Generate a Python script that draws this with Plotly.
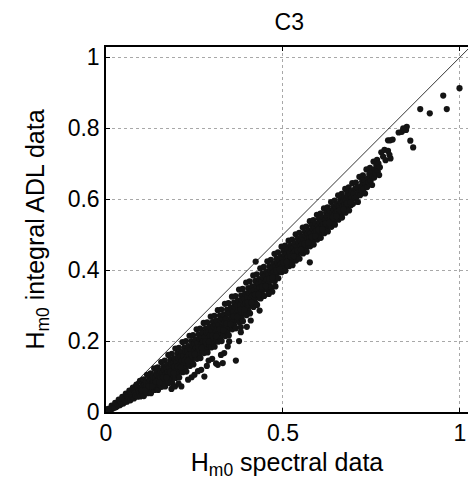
import plotly.graph_objects as go

# Hm0 spectral data (x) and Hm0 integral ADL data (y)
hm0_spectral = [
    0.003, 0.006,
    0.006, 0.009, 0.012, 0.014,
    0.016, 0.019, 0.022, 0.024,
    0.026, 0.029, 0.032, 0.034,
    0.036, 0.039, 0.042, 0.044,
    0.046, 0.049, 0.052, 0.054,
    0.056, 0.059, 0.060, 0.062, 0.064,
    0.066, 0.069, 0.070, 0.072, 0.074,
    0.076, 0.079, 0.080, 0.082, 0.084,
    0.086, 0.089, 0.090, 0.092, 0.094,
    0.096, 0.097, 0.099, 0.100, 0.102, 0.103, 0.104,
    0.106, 0.107, 0.109, 0.110, 0.112, 0.113, 0.114,
    0.116, 0.117, 0.119, 0.120, 0.122, 0.123, 0.124,
    0.126, 0.127, 0.129, 0.130, 0.132, 0.133, 0.134,
    0.136, 0.137, 0.139, 0.140, 0.142, 0.143, 0.144,
    0.146, 0.147, 0.149, 0.150, 0.152, 0.153, 0.154,
    0.156, 0.157, 0.159, 0.160, 0.162, 0.163, 0.164,
    0.166, 0.167, 0.169, 0.170, 0.172, 0.173, 0.174,
    0.176, 0.177, 0.179, 0.180, 0.182, 0.183, 0.184,
    0.186, 0.187, 0.189, 0.190, 0.192, 0.193, 0.194,
    0.196, 0.197, 0.199, 0.200, 0.202, 0.203, 0.204,
    0.206, 0.207, 0.209, 0.210, 0.212, 0.213, 0.214,
    0.216, 0.217, 0.219, 0.220, 0.222, 0.223, 0.224,
    0.226, 0.227, 0.229, 0.230, 0.232, 0.233, 0.234,
    0.236, 0.237, 0.239, 0.240, 0.242, 0.243, 0.244,
    0.246, 0.247, 0.249, 0.250, 0.252, 0.253, 0.254,
    0.256, 0.257, 0.259, 0.260, 0.262, 0.263, 0.264,
    0.266, 0.267, 0.269, 0.270, 0.272, 0.273, 0.274,
    0.276, 0.277, 0.279, 0.280, 0.282, 0.283, 0.284,
    0.286, 0.287, 0.289, 0.290, 0.292, 0.293, 0.294,
    0.296, 0.297, 0.299, 0.300, 0.302, 0.303, 0.304,
    0.306, 0.307, 0.309, 0.310, 0.312, 0.313, 0.314,
    0.316, 0.317, 0.319, 0.320, 0.322, 0.323, 0.324,
    0.326, 0.327, 0.329, 0.330, 0.332, 0.333, 0.334,
    0.336, 0.337, 0.339, 0.340, 0.342, 0.343, 0.344,
    0.346, 0.347, 0.349, 0.350, 0.352, 0.353, 0.354,
    0.356, 0.357, 0.359, 0.360, 0.362, 0.363, 0.364,
    0.366, 0.367, 0.369, 0.370, 0.372, 0.373, 0.374,
    0.376, 0.377, 0.379, 0.380, 0.382, 0.383, 0.384,
    0.386, 0.387, 0.389, 0.390, 0.392, 0.393, 0.394,
    0.396, 0.397, 0.399, 0.400, 0.402, 0.403, 0.404,
    0.406, 0.407, 0.409, 0.410, 0.412, 0.413, 0.414,
    0.416, 0.417, 0.419, 0.420, 0.422, 0.423, 0.424,
    0.426, 0.427, 0.429, 0.430, 0.432, 0.433, 0.434,
    0.436, 0.437, 0.439, 0.440, 0.442, 0.443, 0.444,
    0.446, 0.447, 0.449, 0.450, 0.452, 0.453, 0.454,
    0.456, 0.457, 0.459, 0.460, 0.462, 0.463, 0.464,
    0.466, 0.467, 0.469, 0.470, 0.472, 0.473, 0.474,
    0.476, 0.477, 0.479, 0.480, 0.482, 0.483, 0.484,
    0.486, 0.487, 0.489, 0.490, 0.492, 0.493, 0.494,
    0.496, 0.497, 0.499, 0.500, 0.502, 0.503, 0.504,
    0.506, 0.507, 0.509, 0.510, 0.512, 0.513, 0.514,
    0.516, 0.517, 0.519, 0.520, 0.522, 0.523, 0.524,
    0.526, 0.527, 0.529, 0.530, 0.532, 0.533, 0.534,
    0.536, 0.537, 0.539, 0.540, 0.542, 0.543, 0.544,
    0.546, 0.547, 0.549, 0.550, 0.552, 0.553, 0.554,
    0.556, 0.557, 0.559, 0.560, 0.562, 0.563, 0.564,
    0.566, 0.567, 0.569, 0.570, 0.572, 0.573, 0.574,
    0.576, 0.577, 0.579, 0.580, 0.582, 0.583, 0.584,
    0.586, 0.587, 0.589, 0.590, 0.592, 0.593, 0.594,
    0.596, 0.597, 0.599, 0.600, 0.602, 0.603, 0.604,
    0.606, 0.607, 0.609, 0.610, 0.612, 0.613, 0.614,
    0.616, 0.617, 0.619, 0.620, 0.622, 0.623, 0.624,
    0.626, 0.627, 0.629, 0.630, 0.632, 0.633, 0.634,
    0.636, 0.637, 0.639, 0.640, 0.642, 0.643, 0.644,
    0.646, 0.647, 0.649, 0.650, 0.652, 0.653, 0.654,
    0.656, 0.657, 0.659, 0.660, 0.662, 0.663, 0.664,
    0.666, 0.667, 0.669, 0.670, 0.672, 0.673, 0.674,
    0.676, 0.677, 0.679, 0.680, 0.682, 0.683, 0.684,
    0.686, 0.687, 0.689, 0.690, 0.692, 0.693, 0.694,
    0.696, 0.698, 0.700, 0.702, 0.704,
    0.706, 0.708, 0.710, 0.712, 0.714,
    0.716, 0.718, 0.720, 0.722, 0.724,
    0.726, 0.728, 0.730, 0.732, 0.734,
    0.736, 0.738, 0.740, 0.742, 0.744,
    0.746, 0.748, 0.750, 0.752, 0.754,
    0.756, 0.758, 0.760, 0.762, 0.764,
    0.766, 0.768, 0.770, 0.772, 0.774,
    0.778, 0.787, 0.797, 0.801, 0.804, 0.783, 0.790,
    0.797, 0.803, 0.810, 0.827, 0.836, 0.843, 0.848, 0.850, 0.840,
    0.860, 0.868, 0.888, 0.915, 0.953, 0.963, 0.999,
    0.185, 0.195, 0.213, 0.205, 0.232, 0.242, 0.250, 0.260, 0.269, 0.278,
    0.285, 0.311, 0.316, 0.330, 0.325, 0.334, 0.344, 0.348, 0.367, 0.376,
    0.381, 0.381, 0.398, 0.409, 0.434, 0.460, 0.470, 0.479, 0.576, 0.423,
    0.300, 0.290,
    0.101, 0.111, 0.121, 0.131, 0.141, 0.151, 0.161, 0.171, 0.181, 0.191,
    0.201, 0.211, 0.221, 0.231, 0.241, 0.251, 0.261, 0.271, 0.281, 0.291,
    0.301, 0.311, 0.321, 0.331, 0.341, 0.351, 0.361, 0.371, 0.381, 0.391,
    0.401, 0.411, 0.421, 0.431, 0.441, 0.451, 0.461, 0.471, 0.481, 0.491,
    0.501, 0.511, 0.521, 0.531, 0.541, 0.551, 0.561, 0.571, 0.581, 0.591,
    0.601, 0.611, 0.621, 0.631, 0.641, 0.651, 0.661, 0.671, 0.681, 0.691,
]

hm0_adl = [
    0.002, 0.004,
    0.009, 0.005, 0.007, 0.006,
    0.018, 0.010, 0.014, 0.012,
    0.026, 0.014, 0.021, 0.018,
    0.035, 0.019, 0.028, 0.023,
    0.043, 0.024, 0.034, 0.029,
    0.052, 0.029, 0.046, 0.041, 0.035,
    0.060, 0.033, 0.054, 0.048, 0.041,
    0.069, 0.038, 0.062, 0.055, 0.046,
    0.077, 0.043, 0.069, 0.061, 0.052,
    0.088, 0.044, 0.068, 0.055, 0.080, 0.049, 0.074,
    0.092, 0.045, 0.067, 0.078, 0.056, 0.085, 0.072,
    0.105, 0.053, 0.081, 0.066, 0.096, 0.059, 0.089,
    0.109, 0.053, 0.079, 0.092, 0.066, 0.101, 0.085,
    0.123, 0.062, 0.095, 0.077, 0.112, 0.069, 0.104,
    0.126, 0.062, 0.092, 0.107, 0.077, 0.116, 0.098,
    0.141, 0.071, 0.109, 0.088, 0.129, 0.079, 0.119,
    0.145, 0.072, 0.106, 0.123, 0.089, 0.134, 0.113,
    0.161, 0.082, 0.125, 0.102, 0.147, 0.091, 0.136,
    0.164, 0.082, 0.120, 0.139, 0.101, 0.151, 0.128,
    0.179, 0.096, 0.141, 0.117, 0.165, 0.105, 0.153,
    0.181, 0.097, 0.136, 0.156, 0.117, 0.169, 0.144,
    0.197, 0.112, 0.158, 0.133, 0.182, 0.122, 0.171,
    0.200, 0.114, 0.154, 0.173, 0.134, 0.186, 0.162,
    0.215, 0.130, 0.176, 0.151, 0.200, 0.140, 0.189,
    0.217, 0.134, 0.173, 0.192, 0.153, 0.205, 0.181,
    0.233, 0.150, 0.195, 0.171, 0.219, 0.159, 0.207,
    0.235, 0.152, 0.191, 0.210, 0.171, 0.223, 0.199,
    0.251, 0.166, 0.212, 0.187, 0.236, 0.176, 0.225,
    0.253, 0.168, 0.208, 0.227, 0.188, 0.240, 0.216,
    0.269, 0.182, 0.229, 0.204, 0.254, 0.192, 0.242,
    0.271, 0.184, 0.224, 0.245, 0.204, 0.258, 0.233,
    0.287, 0.198, 0.246, 0.221, 0.272, 0.208, 0.259,
    0.289, 0.200, 0.241, 0.262, 0.221, 0.275, 0.250,
    0.305, 0.214, 0.263, 0.237, 0.289, 0.225, 0.277,
    0.307, 0.216, 0.259, 0.280, 0.237, 0.294, 0.267,
    0.325, 0.233, 0.282, 0.256, 0.309, 0.243, 0.296,
    0.327, 0.236, 0.279, 0.300, 0.257, 0.314, 0.287,
    0.345, 0.253, 0.302, 0.276, 0.329, 0.263, 0.316,
    0.347, 0.256, 0.299, 0.320, 0.277, 0.334, 0.307,
    0.365, 0.273, 0.323, 0.297, 0.349, 0.284, 0.336,
    0.368, 0.278, 0.320, 0.341, 0.299, 0.354, 0.328,
    0.385, 0.296, 0.344, 0.319, 0.370, 0.306, 0.357,
    0.388, 0.302, 0.342, 0.362, 0.322, 0.375, 0.350,
    0.405, 0.320, 0.366, 0.341, 0.390, 0.330, 0.379,
    0.409, 0.327, 0.365, 0.384, 0.346, 0.396, 0.373,
    0.425, 0.344, 0.388, 0.365, 0.411, 0.354, 0.400,
    0.429, 0.352, 0.388, 0.406, 0.370, 0.418, 0.395,
    0.446, 0.369, 0.410, 0.388, 0.432, 0.378, 0.422,
    0.450, 0.377, 0.411, 0.428, 0.394, 0.439, 0.418,
    0.466, 0.395, 0.433, 0.413, 0.454, 0.403, 0.444,
    0.469, 0.398, 0.431, 0.448, 0.414, 0.458, 0.438,
    0.483, 0.411, 0.450, 0.429, 0.470, 0.419, 0.460,
    0.486, 0.414, 0.447, 0.464, 0.431, 0.475, 0.454,
    0.501, 0.427, 0.467, 0.446, 0.488, 0.435, 0.478,
    0.505, 0.432, 0.466, 0.483, 0.449, 0.494, 0.473,
    0.520, 0.447, 0.486, 0.465, 0.507, 0.455, 0.497,
    0.523, 0.452, 0.485, 0.502, 0.468, 0.512, 0.492,
    0.538, 0.467, 0.505, 0.485, 0.526, 0.475, 0.516,
    0.541, 0.472, 0.504, 0.520, 0.488, 0.531, 0.511,
    0.556, 0.486, 0.524, 0.504, 0.544, 0.494, 0.534,
    0.559, 0.491, 0.523, 0.539, 0.507, 0.549, 0.529,
    0.574, 0.504, 0.542, 0.522, 0.562, 0.512, 0.552,
    0.577, 0.509, 0.541, 0.557, 0.525, 0.567, 0.547,
    0.592, 0.522, 0.560, 0.540, 0.580, 0.530, 0.570,
    0.596, 0.528, 0.560, 0.576, 0.544, 0.586, 0.566,
    0.611, 0.542, 0.580, 0.560, 0.599, 0.550, 0.590,
    0.615, 0.548, 0.579, 0.594, 0.563, 0.605, 0.585,
    0.629, 0.562, 0.598, 0.579, 0.618, 0.570, 0.608,
    0.633, 0.568, 0.598, 0.613, 0.583, 0.623, 0.604,
    0.645, 0.587, 0.616, 0.602, 0.630,
    0.647, 0.606, 0.633, 0.592, 0.620,
    0.663, 0.611, 0.637, 0.624, 0.650,
    0.667, 0.629, 0.654, 0.616, 0.642,
    0.684, 0.634, 0.659, 0.647, 0.671,
    0.688, 0.652, 0.676, 0.640, 0.664,
    0.706, 0.661, 0.684, 0.672, 0.695,
    0.711, 0.679, 0.700, 0.668, 0.690,
    0.732, 0.739, 0.736, 0.725, 0.715, 0.720, 0.710,
    0.766, 0.766, 0.768, 0.788, 0.790, 0.797, 0.795, 0.804, 0.800,
    0.765, 0.746, 0.854, 0.842, 0.892, 0.854, 0.913,
    0.065, 0.072, 0.072, 0.080, 0.091, 0.098, 0.105, 0.115, 0.119, 0.100,
    0.130, 0.137, 0.133, 0.138, 0.161, 0.166, 0.185, 0.199, 0.145, 0.200,
    0.225, 0.239, 0.240, 0.258, 0.286, 0.333, 0.339, 0.354, 0.422, 0.424,
    0.150, 0.145,
    0.061, 0.062, 0.073, 0.073, 0.085, 0.084, 0.098, 0.097, 0.113, 0.110,
    0.128, 0.126, 0.145, 0.144, 0.163, 0.163, 0.182, 0.181, 0.199, 0.198,
    0.216, 0.214, 0.233, 0.231, 0.250, 0.248, 0.269, 0.268, 0.289, 0.288,
    0.309, 0.309, 0.331, 0.332, 0.353, 0.355, 0.376, 0.379, 0.399, 0.402,
    0.422, 0.423, 0.439, 0.439, 0.456, 0.457, 0.475, 0.477, 0.494, 0.496,
    0.514, 0.515, 0.532, 0.533, 0.550, 0.552, 0.569, 0.571, 0.588, 0.590,
]

assert len(hm0_spectral) == len(hm0_adl), (len(hm0_spectral), len(hm0_adl))

# 1:1 reference line
diag_x = [0, 1.05]
diag_y = [0, 1.05]

x_tickvals = [0, 0.5, 1]
x_ticktext = ["0", "0.5", "1"]
y_tickvals = [0, 0.2, 0.4, 0.6, 0.8, 1]
y_ticktext = ["0", "0.2", "0.4", "0.6", "0.8", "1"]

FONT = "Liberation Sans, Arial, sans-serif"

fig = go.Figure()
fig.add_trace(go.Scatter(
    x=diag_x, y=diag_y, mode="lines",
    line=dict(color="black", width=0.8),
    hoverinfo="skip", showlegend=False,
))
fig.add_trace(go.Scatter(
    x=hm0_spectral, y=hm0_adl, mode="markers",
    marker=dict(size=6.2, color="#141414", line=dict(width=0)),
    showlegend=False,
))

fig.update_layout(
    width=468, height=488,
    margin=dict(l=106, r=0, t=47, b=76),
    paper_bgcolor="white", plot_bgcolor="white",
    font=dict(family=FONT, color="black"),
    title=dict(text="C3", x=0.618, xanchor="center", y=0.955, yanchor="middle",
               font=dict(size=23, family=FONT, color="black")),
)
fig.update_xaxes(
    range=[0, 1.023], tickvals=x_tickvals, ticktext=x_ticktext,
    tickfont=dict(size=23), ticks="inside", ticklen=4, tickcolor="black",
    ticklabeloverflow="allow",
    showline=True, linecolor="black", linewidth=1.5, mirror="ticks",
    showgrid=True, gridcolor="#a8a8a8", griddash="dot", gridwidth=1,
    zeroline=False,
    title=dict(text="H<sub>m0</sub> spectral data", font=dict(size=25), standoff=8),
)
fig.update_yaxes(
    range=[0, 1.029], tickvals=y_tickvals, ticktext=y_ticktext,
    tickfont=dict(size=23), ticks="inside", ticklen=4, tickcolor="black",
    ticklabeloverflow="allow",
    showline=True, linecolor="black", linewidth=1.5, mirror=False,
    showgrid=True, gridcolor="#a8a8a8", griddash="dot", gridwidth=1,
    zeroline=False,
    title=dict(text="H<sub>m0</sub> integral ADL data", font=dict(size=25), standoff=16),
)

fig.write_html("out.html")
